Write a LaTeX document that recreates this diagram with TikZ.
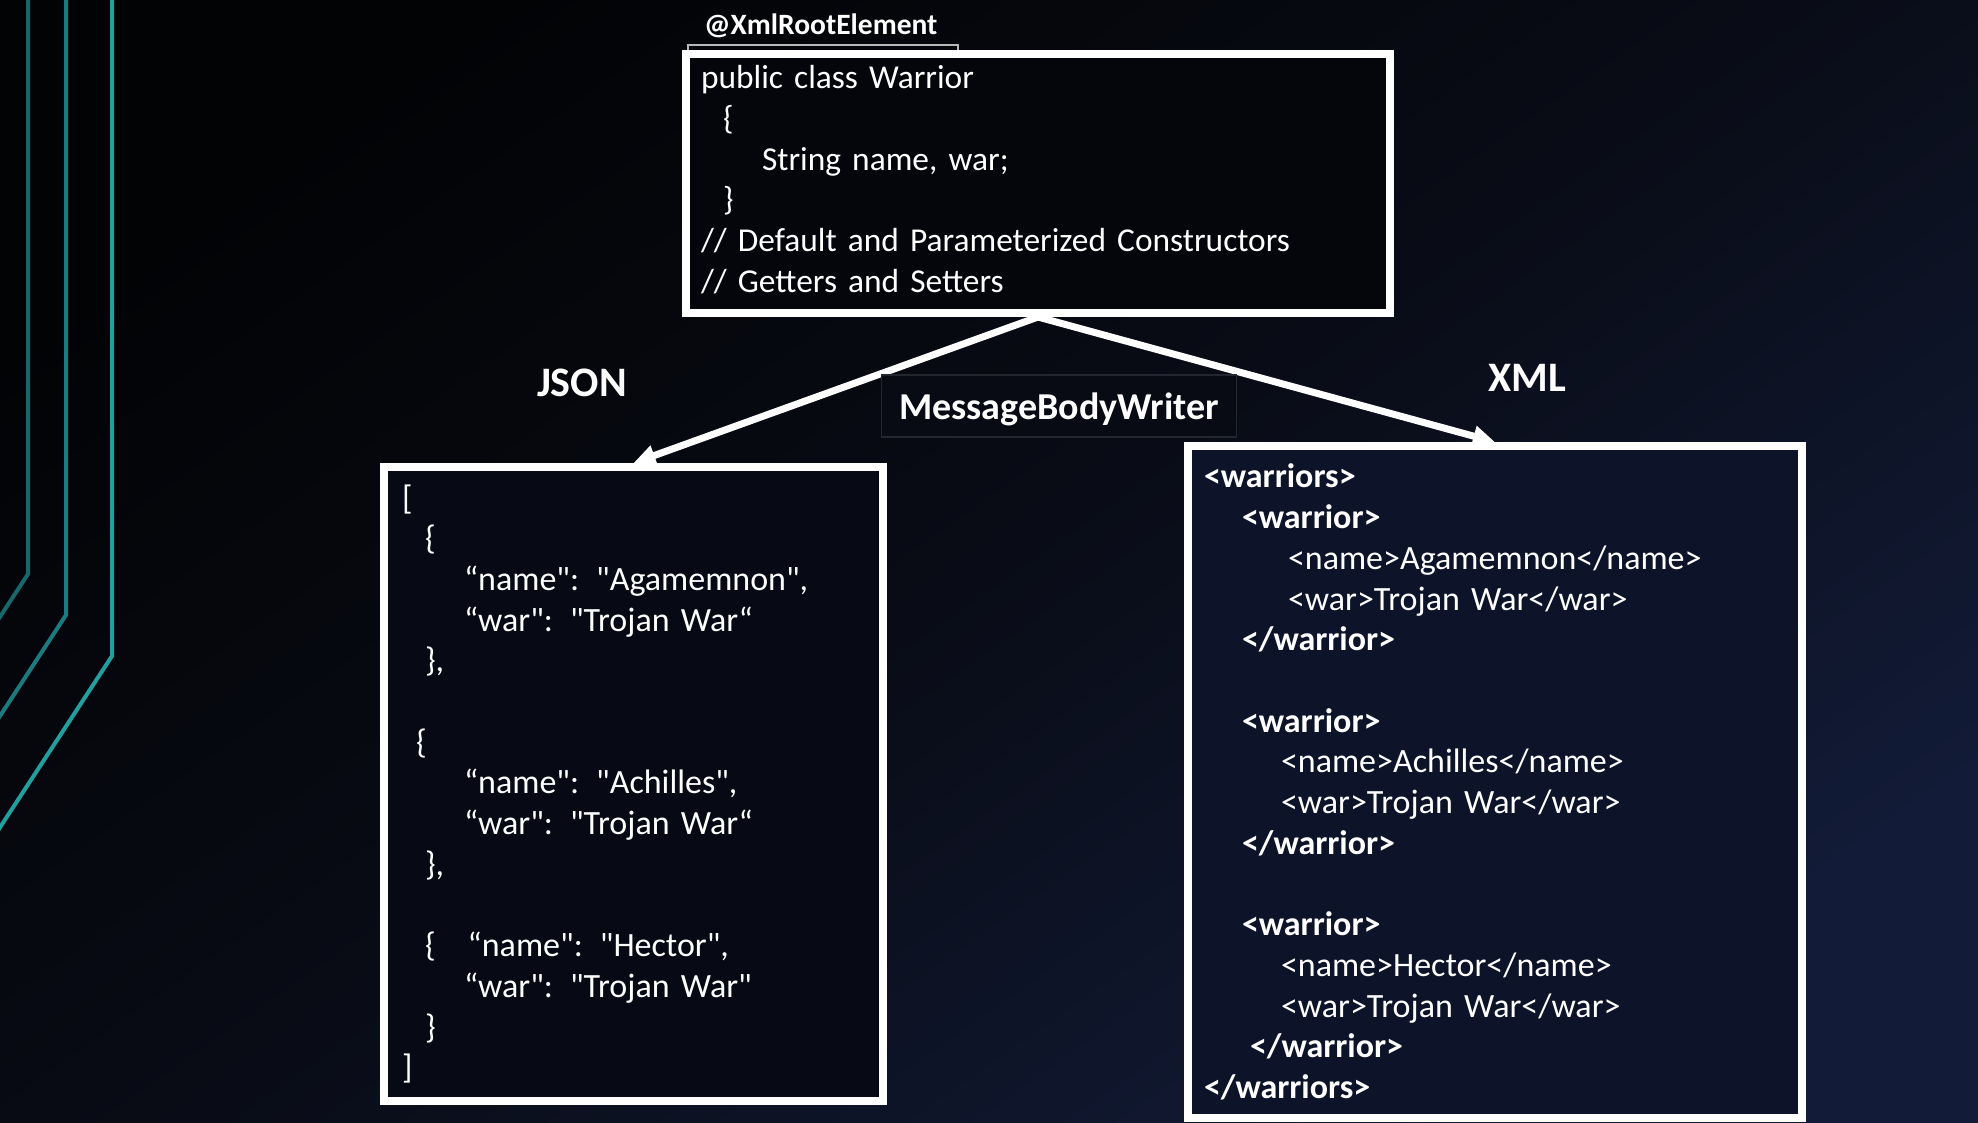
\documentclass[tikz,border=0pt]{standalone}
\usepackage{fontspec}
\setmainfont{Carlito}[Ligatures=TeXOff]
\usetikzlibrary{arrows.meta,positioning}

\definecolor{bgdark}{HTML}{020305}
\definecolor{bgmid}{HTML}{090C16}
\definecolor{bgnavy}{HTML}{121B37}
\definecolor{tealA}{HTML}{17686B}
\definecolor{tealB}{HTML}{1B7C80}
\definecolor{tealC}{HTML}{22A0A0}
\definecolor{classfill}{HTML}{05060C}
\definecolor{jsonfill}{HTML}{070A14}
\definecolor{xmlfill}{HTML}{0D1328}
\definecolor{writerfill}{HTML}{080A14}
\definecolor{writerline}{HTML}{23262F}
\definecolor{framegray}{HTML}{B8B8B8}

\begin{document}
\begin{tikzpicture}[x=1pt,y=-1pt,>={Triangle[length=22pt,width=20pt]},
  code box/.style={draw=white,line width=8pt,inner sep=0pt,align=left,
    text=white,font=\fontsize{34}{40.7}\selectfont},
  format tag/.style={inner sep=0pt,text=white,
    font=\bfseries\fontsize{42}{50}\selectfont},
  writer box/.style={draw=writerline,line width=1.5pt,fill=writerfill,
    inner sep=0pt,minimum width=355pt,minimum height=62pt,text=white,
    text depth=0pt,font=\bfseries\fontsize{38}{45}\selectfont},
  flow/.style={->,draw=white,line width=7pt},
  rail/.style={line width=4pt}]

  \useasboundingbox (0,0) rectangle (1978,1122);
  \shade[top color=bgdark,bottom color=bgnavy,middle color=bgmid,
    shading angle=35] (0,0) rectangle (1978,1122);

  % teal rails on the left
  \foreach \x/\bend/\col in {28/574/tealA,66/615/tealB,112/656/tealC}
    \draw[rail,\col] (\x,-5) -- (\x,\bend) -- ++({-\x-12},{1.53*(\x+12)});

  \draw[framegray,line width=2pt] (688,45) rectangle (958,60);

  \node[code box,fill=classfill,minimum width=704pt,minimum height=259pt,
    text width=674pt,font=\fontsize{33.4}{40.7}\selectfont]
    (warrior) at (1038,183.5)
  {public class Warrior\\
   \hspace*{22pt}\{\\
   \hspace*{61pt}String name, war;\\
   \hspace*{22pt}\}\\
   // Default and Parameterized Constructors\\
   // Getters and Setters\rule[-9pt]{0pt}{1pt}};

  \node[inner sep=0pt,text depth=0pt,text=white,
    font=\bfseries\fontsize{29.5}{35}\selectfont] (rootlabel)
    [above right=15pt and 22pt of warrior.north west] {@XmlRootElement};

  \node[code box,fill=jsonfill,minimum width=499pt,minimum height=634pt,
    text width=463pt] (json) at (633.5,784)
  {[\\
   \hspace*{23pt}\{\\
   \hspace*{62pt}“name": "Agamemnon",\\
   \hspace*{62pt}“war": "Trojan War“\\
   \hspace*{23pt}\},\\
   ~\\
   \hspace*{14pt}\{\\
   \hspace*{62pt}“name": "Achilles",\\
   \hspace*{62pt}“war": "Trojan War“\\
   \hspace*{23pt}\},\\
   ~\\
   \hspace*{23pt}\{\hspace{32pt}“name": "Hector",\\
   \hspace*{62pt}“war": "Trojan War"\\
   \hspace*{23pt}\}\\
   ]};

  \node[code box,fill=xmlfill,minimum width=614pt,minimum height=672pt,
    text width=582pt] (xml) at (1495,782)
  {\textbf{<warriors>}\\
   \hspace*{38pt}\textbf{<warrior>}\\
   \hspace*{84pt}<name>Agamemnon</name>\\
   \hspace*{84pt}<war>Trojan War</war>\\
   \hspace*{38pt}\textbf{</warrior>}\\
   ~\\
   \hspace*{38pt}\textbf{<warrior>}\\
   \hspace*{77pt}<name>Achilles</name>\\
   \hspace*{77pt}<war>Trojan War</war>\\
   \hspace*{38pt}\textbf{</warrior>}\\
   ~\\
   \hspace*{38pt}\textbf{<warrior>}\\
   \hspace*{77pt}<name>Hector</name>\\
   \hspace*{77pt}<war>Trojan War</war>\\
   \hspace*{46pt}\textbf{</warrior>}\\
   \textbf{</warriors>}};

  \node[format tag] (jsonlabel) [above=66pt of json.north, xshift=-51.5pt] {JSON};
  \node[format tag] (xmllabel) [above=50pt of xml.north, xshift=32pt] {XML};

  \path (warrior.south) edge[flow] (json.north)
                        edge[flow] (xml.north);

  \node[writer box] (writer) [below=57pt of warrior.south, xshift=21pt]
    {MessageBodyWriter};
\end{tikzpicture}
\end{document}
